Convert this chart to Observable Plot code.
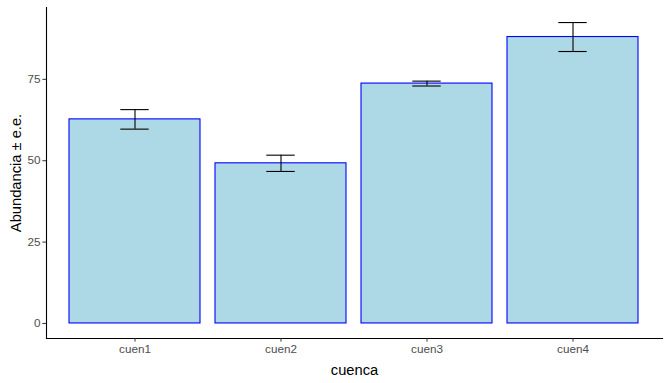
<!DOCTYPE html>
<html>
<head>
<meta charset="utf-8">
<script src="https://cdn.jsdelivr.net/npm/d3@7"></script>
<script src="https://cdn.jsdelivr.net/npm/@observablehq/plot@0.6"></script>
<style>
  html, body { margin: 0; padding: 0; background: #fff; }
  svg { display: block; }
</style>
</head>
<body>
<div id="chart"></div>
<script>
const categories = ["cuen1", "cuen2", "cuen3", "cuen4"];
const means = [62.7, 49.2, 73.7, 88.0];
const errors = [3.0, 2.5, 0.75, 4.45];
const yTicks = [0, 25, 50, 75];

const data = categories.map((c, i) => ({
  cuenca: c, mean: means[i], lo: means[i] - errors[i], hi: means[i] + errors[i]
}));

const yMax = d3.max(data, d => d.hi);
const pad = yMax * 0.05;

const chart = Plot.plot({
  width: 670,
  height: 383,
  marginLeft: 46,
  marginRight: 8,
  marginTop: 7,
  marginBottom: 45,
  style: { fontFamily: "Liberation Sans, Arial, sans-serif", background: "#fff" },
  x: { domain: categories, paddingInner: 0.1, paddingOuter: 0.15 },
  y: { domain: [-pad, yMax + pad] },
  marks: [
    Plot.barY(data, { x: "cuenca", y1: 0, y2: "mean", fill: "#ADD8E6", stroke: "#0000FF", strokeWidth: 1.1 }),
    Plot.ruleX(data, { x: "cuenca", y1: "lo", y2: "hi", stroke: "#000", strokeWidth: 1.1 }),
    Plot.tickY(data, { x: "cuenca", y: "lo", stroke: "#000", strokeWidth: 1.1, insetLeft: 51.3, insetRight: 51.3 }),
    Plot.tickY(data, { x: "cuenca", y: "hi", stroke: "#000", strokeWidth: 1.1, insetLeft: 51.3, insetRight: 51.3 }),
    Plot.frame({ anchor: "left", stroke: "#000", strokeWidth: 1.1 }),
    Plot.frame({ anchor: "bottom", stroke: "#000", strokeWidth: 1.1 }),
    Plot.axisY({ ticks: yTicks, tickSize: 3.6, tickPadding: 2.5, fontSize: 11.7, color: "#4D4D4D", stroke: "#333", label: null }),
    Plot.axisX({ tickSize: 3.6, tickPadding: 2.5, fontSize: 11.7, color: "#4D4D4D", stroke: "#333", label: null }),
    Plot.text(["cuenca"], { frameAnchor: "bottom", dy: 36, fontSize: 14.7, fill: "#000" }),
    Plot.text(["Abundancia ± e.e."], { frameAnchor: "left", textAnchor: "middle", dx: -30, rotate: -90, fontSize: 14.7, fill: "#000" })
  ]
});
document.getElementById("chart").appendChild(chart);
</script>
</body>
</html>
